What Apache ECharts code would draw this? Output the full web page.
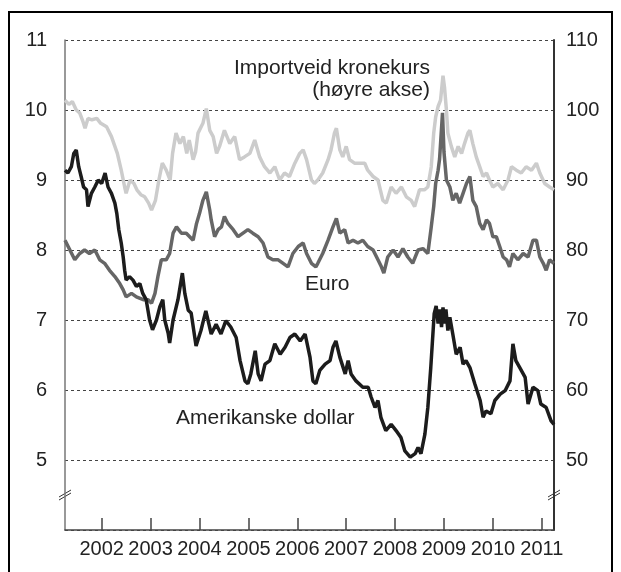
<!DOCTYPE html>
<html>
<head>
<meta charset="utf-8">
<script src="https://cdn.jsdelivr.net/npm/echarts@6/dist/echarts.min.js"></script>
<style>
  html, body { margin: 0; padding: 0; background: #fff; }
  #chart { width: 621px; height: 572px; }
</style>
</head>
<body>
<div id="chart"></div>
<script>
// x values are decimal years
const yearTicks = [2002, 2003, 2004, 2005, 2006, 2007, 2008, 2009, 2010, 2011]

// Importveid kronekurs (right axis)
const impYears = [2001.25, 2001.33, 2001.40, 2001.48, 2001.55, 2001.62, 2001.66, 2001.72, 2001.80, 2001.90, 2001.98, 2002.10, 2002.20, 2002.32, 2002.40, 2002.47, 2002.50, 2002.58, 2002.66, 2002.72, 2002.80, 2002.88, 2002.96, 2003.02, 2003.10, 2003.17, 2003.24, 2003.32, 2003.40, 2003.45, 2003.52, 2003.60, 2003.67, 2003.74, 2003.79, 2003.87, 2003.92, 2003.97, 2004.07, 2004.14, 2004.21, 2004.28, 2004.35, 2004.41, 2004.51, 2004.62, 2004.72, 2004.82, 2004.92, 2005.03, 2005.13, 2005.23, 2005.33, 2005.44, 2005.54, 2005.64, 2005.74, 2005.84, 2005.95, 2006.05, 2006.12, 2006.19, 2006.29, 2006.35, 2006.42, 2006.52, 2006.63, 2006.69, 2006.76, 2006.80, 2006.87, 2006.93, 2007.00, 2007.07, 2007.17, 2007.27, 2007.38, 2007.44, 2007.55, 2007.65, 2007.75, 2007.82, 2007.92, 2008.02, 2008.13, 2008.23, 2008.33, 2008.40, 2008.50, 2008.60, 2008.67, 2008.74, 2008.79, 2008.83, 2008.88, 2008.93, 2008.98, 2009.01, 2009.05, 2009.08, 2009.15, 2009.22, 2009.29, 2009.36, 2009.42, 2009.49, 2009.53, 2009.59, 2009.66, 2009.73, 2009.80, 2009.87, 2009.93, 2010.00, 2010.10, 2010.21, 2010.31, 2010.38, 2010.48, 2010.58, 2010.68, 2010.79, 2010.89, 2010.96, 2011.06, 2011.16, 2011.25]
const impValues = [101.4, 100.8, 101.2, 100.0, 99.6, 98.3, 97.4, 98.8, 98.6, 98.8, 98.1, 97.6, 96.2, 93.8, 91.4, 89.0, 88.1, 90.0, 89.5, 88.6, 87.9, 87.6, 86.7, 85.7, 87.1, 90.0, 92.4, 91.4, 90.0, 93.8, 96.7, 95.2, 96.2, 93.8, 95.7, 92.9, 94.0, 96.7, 98.1, 100.2, 97.1, 96.2, 93.8, 94.8, 97.1, 95.2, 96.2, 92.9, 93.3, 93.8, 95.7, 93.3, 91.9, 91.0, 91.9, 90.0, 91.0, 90.5, 92.4, 93.8, 94.3, 92.9, 90.0, 89.5, 90.0, 91.0, 92.9, 94.3, 96.7, 97.4, 94.3, 93.3, 94.8, 92.9, 92.4, 92.4, 92.4, 91.4, 90.5, 90.0, 87.1, 86.7, 89.0, 88.1, 89.0, 87.6, 87.1, 86.2, 88.6, 88.6, 89.0, 91.9, 96.7, 99.0, 100.5, 101.4, 104.9, 103.3, 100.0, 96.7, 94.8, 93.3, 94.8, 93.8, 95.2, 96.7, 97.1, 95.2, 93.3, 91.9, 90.5, 91.0, 90.0, 89.0, 89.5, 88.6, 90.0, 91.9, 91.4, 91.0, 91.9, 91.4, 92.4, 91.0, 89.5, 89.0, 88.6]

// Euro (left axis)
const eurYears = [2001.25, 2001.35, 2001.45, 2001.55, 2001.65, 2001.75, 2001.86, 2001.96, 2002.06, 2002.16, 2002.27, 2002.37, 2002.44, 2002.50, 2002.61, 2002.71, 2002.85, 2002.95, 2003.02, 2003.09, 2003.15, 2003.22, 2003.32, 2003.39, 2003.46, 2003.53, 2003.63, 2003.73, 2003.80, 2003.87, 2003.94, 2004.00, 2004.07, 2004.14, 2004.21, 2004.24, 2004.31, 2004.38, 2004.45, 2004.51, 2004.58, 2004.69, 2004.79, 2004.89, 2004.99, 2005.09, 2005.20, 2005.30, 2005.40, 2005.50, 2005.61, 2005.71, 2005.81, 2005.91, 2006.02, 2006.12, 2006.19, 2006.29, 2006.38, 2006.42, 2006.52, 2006.63, 2006.73, 2006.80, 2006.87, 2006.97, 2007.04, 2007.14, 2007.24, 2007.34, 2007.44, 2007.55, 2007.65, 2007.72, 2007.77, 2007.85, 2007.96, 2008.06, 2008.16, 2008.26, 2008.36, 2008.47, 2008.57, 2008.67, 2008.74, 2008.79, 2008.83, 2008.88, 2008.91, 2008.97, 2009.00, 2009.05, 2009.12, 2009.18, 2009.25, 2009.32, 2009.39, 2009.46, 2009.53, 2009.59, 2009.66, 2009.73, 2009.80, 2009.87, 2009.93, 2010.00, 2010.07, 2010.14, 2010.21, 2010.28, 2010.34, 2010.41, 2010.51, 2010.62, 2010.72, 2010.82, 2010.89, 2010.96, 2011.03, 2011.09, 2011.16, 2011.25]
const eurValues = [8.14, 8.00, 7.86, 7.95, 8.00, 7.95, 8.00, 7.86, 7.81, 7.71, 7.62, 7.52, 7.43, 7.33, 7.38, 7.33, 7.29, 7.29, 7.24, 7.38, 7.62, 7.86, 7.86, 7.95, 8.24, 8.33, 8.24, 8.24, 8.19, 8.14, 8.38, 8.52, 8.71, 8.83, 8.57, 8.43, 8.19, 8.29, 8.33, 8.48, 8.38, 8.29, 8.19, 8.24, 8.29, 8.24, 8.19, 8.10, 7.90, 7.86, 7.86, 7.81, 7.76, 7.95, 8.05, 8.10, 7.95, 7.81, 7.76, 7.81, 7.95, 8.14, 8.33, 8.45, 8.24, 8.29, 8.10, 8.14, 8.10, 8.14, 8.05, 8.00, 7.86, 7.76, 7.67, 7.90, 8.00, 7.90, 8.02, 7.90, 7.81, 8.00, 8.02, 7.95, 8.33, 8.62, 8.95, 9.14, 9.30, 9.96, 9.40, 9.00, 8.90, 8.71, 8.81, 8.67, 8.81, 8.95, 9.05, 8.71, 8.62, 8.38, 8.29, 8.43, 8.38, 8.19, 8.19, 8.05, 7.90, 7.86, 7.76, 7.95, 7.86, 7.95, 7.90, 8.14, 8.14, 7.90, 7.81, 7.71, 7.86, 7.81]

// Amerikanske dollar (left axis)
const usdYears = [2001.25, 2001.31, 2001.38, 2001.43, 2001.48, 2001.53, 2001.58, 2001.63, 2001.69, 2001.72, 2001.79, 2001.86, 2001.93, 2002.00, 2002.07, 2002.13, 2002.20, 2002.27, 2002.31, 2002.35, 2002.40, 2002.44, 2002.47, 2002.50, 2002.57, 2002.64, 2002.71, 2002.78, 2002.84, 2002.91, 2002.98, 2003.04, 2003.12, 2003.19, 2003.25, 2003.29, 2003.36, 2003.39, 2003.46, 2003.56, 2003.65, 2003.70, 2003.77, 2003.83, 2003.93, 2004.03, 2004.13, 2004.24, 2004.34, 2004.44, 2004.54, 2004.64, 2004.75, 2004.83, 2004.93, 2004.99, 2005.05, 2005.14, 2005.20, 2005.26, 2005.34, 2005.44, 2005.54, 2005.65, 2005.75, 2005.85, 2005.95, 2006.06, 2006.16, 2006.26, 2006.32, 2006.38, 2006.46, 2006.57, 2006.67, 2006.73, 2006.79, 2006.87, 2006.98, 2007.04, 2007.10, 2007.20, 2007.34, 2007.45, 2007.51, 2007.59, 2007.65, 2007.71, 2007.81, 2007.92, 2008.02, 2008.12, 2008.20, 2008.31, 2008.41, 2008.47, 2008.53, 2008.61, 2008.67, 2008.73, 2008.80, 2008.84, 2008.88, 2008.92, 2008.95, 2008.98, 2009.01, 2009.04, 2009.08, 2009.12, 2009.18, 2009.25, 2009.33, 2009.39, 2009.45, 2009.53, 2009.63, 2009.74, 2009.80, 2009.86, 2009.96, 2010.04, 2010.15, 2010.25, 2010.35, 2010.41, 2010.47, 2010.55, 2010.66, 2010.72, 2010.82, 2010.92, 2010.98, 2011.09, 2011.19, 2011.25]
const usdValues = [9.14, 9.10, 9.19, 9.38, 9.43, 9.19, 9.05, 8.90, 8.86, 8.62, 8.81, 8.90, 9.00, 8.95, 9.10, 8.90, 8.81, 8.67, 8.52, 8.29, 8.10, 7.90, 7.71, 7.57, 7.62, 7.57, 7.48, 7.52, 7.38, 7.29, 7.00, 6.86, 7.00, 7.19, 7.29, 7.00, 6.81, 6.67, 7.00, 7.29, 7.67, 7.38, 7.14, 7.10, 6.63, 6.85, 7.13, 6.80, 6.94, 6.80, 6.99, 6.90, 6.75, 6.42, 6.13, 6.09, 6.23, 6.56, 6.23, 6.13, 6.37, 6.42, 6.66, 6.51, 6.61, 6.75, 6.80, 6.70, 6.80, 6.47, 6.13, 6.09, 6.28, 6.37, 6.42, 6.61, 6.70, 6.47, 6.23, 6.42, 6.23, 6.13, 6.04, 6.04, 5.90, 5.75, 5.85, 5.61, 5.42, 5.51, 5.42, 5.32, 5.13, 5.04, 5.09, 5.18, 5.09, 5.37, 5.75, 6.32, 7.09, 7.20, 6.95, 7.15, 6.90, 7.18, 6.95, 7.15, 6.85, 7.04, 6.80, 6.51, 6.61, 6.37, 6.42, 6.32, 6.09, 5.85, 5.61, 5.70, 5.66, 5.85, 5.94, 5.99, 6.13, 6.66, 6.42, 6.32, 6.18, 5.80, 6.04, 5.99, 5.80, 5.75, 5.56, 5.51]

const zip = (xs, ys) => xs.map((x, i) => [x, ys[i]])

const chart = echarts.init(document.getElementById('chart'))

const labelFont = {
  color: '#222',
  fontSize: 20,
  fontFamily: 'Liberation Sans, Arial, sans-serif'
}

const breakMark = (x) => ({
  type: 'group',
  children: [
    { type: 'line', shape: { x1: x - 6, y1: 497, x2: x + 6, y2: 490 }, style: { stroke: '#333', lineWidth: 1 } },
    { type: 'line', shape: { x1: x - 6, y1: 500, x2: x + 6, y2: 493 }, style: { stroke: '#333', lineWidth: 1 } }
  ]
})

const option = {
  backgroundColor: '#fff',
  animation: false,
  grid: { left: 65, right: 67, top: 40, bottom: 42 },
  xAxis: {
    type: 'value',
    min: 2001.25,
    max: 2011.25,
    axisLine: { lineStyle: { color: '#444', width: 1.5 } },
    axisTick: {
      show: true,
      inside: true,
      length: 12,
      customValues: yearTicks,
      lineStyle: { color: '#444', width: 1.5 }
    },
    axisLabel: {
      ...labelFont,
      margin: 9,
      customValues: yearTicks,
      formatter: (v) => String(Math.round(v))
    },
    splitLine: { show: false }
  },
  yAxis: [
    {
      type: 'value',
      min: 4,
      max: 11,
      interval: 1,
      position: 'left',
      axisLine: { show: true, lineStyle: { color: '#777', width: 1.5 } },
      axisTick: { show: false },
      axisLabel: {
        ...labelFont,
        margin: 18,
        formatter: (v) => (v === 4 ? '' : String(v))
      },
      splitLine: { show: true, lineStyle: { color: '#444', width: 1, type: [3, 3] } }
    },
    {
      type: 'value',
      min: 40,
      max: 110,
      interval: 10,
      position: 'right',
      axisLine: { show: true, lineStyle: { color: '#333', width: 2 } },
      axisTick: { show: false },
      axisLabel: {
        ...labelFont,
        margin: 12,
        formatter: (v) => (v === 40 ? '' : String(v))
      },
      splitLine: { show: false }
    }
  ],
  series: [
    {
      name: 'Importveid kronekurs',
      type: 'line',
      yAxisIndex: 1,
      data: zip(impYears, impValues),
      showSymbol: false,
      lineStyle: { color: '#cccccc', width: 3.5 },
      z: 2
    },
    {
      name: 'Euro',
      type: 'line',
      data: zip(eurYears, eurValues),
      showSymbol: false,
      lineStyle: { color: '#666666', width: 3.5 },
      z: 3
    },
    {
      name: 'Amerikanske dollar',
      type: 'line',
      data: zip(usdYears, usdValues),
      showSymbol: false,
      lineStyle: { color: '#1c1c1c', width: 3.5 },
      z: 4
    }
  ],
  graphic: [
    {
      type: 'rect',
      shape: { x: 9, y: 12, width: 603, height: 600 },
      style: { fill: 'none', stroke: '#000', lineWidth: 2 },
      silent: true
    },
    {
      type: 'text',
      x: 430,
      y: 57,
      style: {
        text: 'Importveid kronekurs\n(høyre akse)',
        align: 'right',
        lineHeight: 22,
        fill: '#222',
        font: '21px "Liberation Sans", Arial, sans-serif'
      }
    },
    {
      type: 'text',
      x: 305,
      y: 274,
      style: { text: 'Euro', fill: '#222', font: '21px "Liberation Sans", Arial, sans-serif' }
    },
    {
      type: 'text',
      x: 176,
      y: 408,
      style: { text: 'Amerikanske dollar', fill: '#222', font: '21px "Liberation Sans", Arial, sans-serif' }
    },
    breakMark(65),
    breakMark(554)
  ]
}

chart.setOption(option)
</script>
</body>
</html>
